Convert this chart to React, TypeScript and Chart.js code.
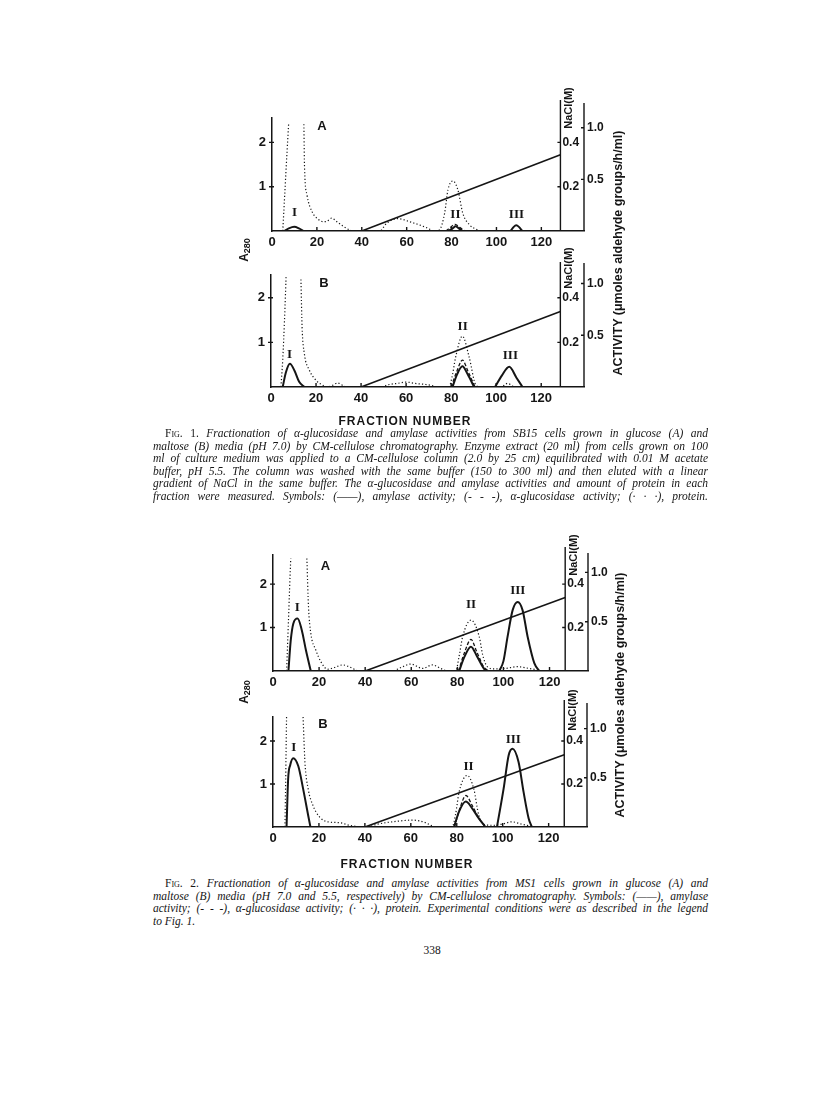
import React, { useEffect, useLayoutEffect, useRef } from "react";
import { Chart, registerables } from "chart.js";

Chart.register(...registerables);

type Pt = [number, number | null];
type Lbl = [string, number, number];

// ---------- axis ticks ----------
const fractionTicks = [0, 20, 40, 60, 80, 100, 120];
const a280Ticks = [1, 2];
const naclTicks = [0.2, 0.4];
const activityTicks = [0.5, 1.0];

// ---------- Fig. 1A (SB15, glucose) ----------
const f1aProtein: Pt[] = [
  [4.8, 0], [5.9, 1.04], [6.7, 1.79], [7.4, 2.41], [10.8, null], [14.2, 2.41], [14.5, 1.42],
  [15.6, 0.81], [17.8, 0.44], [20, 0.29], [23, 0.21], [24.5, 0.22], [26.5, 0.29], [28.9, 0.21],
  [31.9, 0.1], [34.8, 0.02], [37, 0], [48, 0], [51, 0.17], [56, 0.28], [61.3, 0.21], [68.7, 0.08],
  [72.4, 0], [74.5, 0.02], [76.9, 0.4], [78.4, 0.93], [80.6, 1.13], [82.8, 0.93], [85, 0.4],
  [88, 0.14], [91, 0.04], [93, 0],
];
const f1aAmylase: Pt[] = [
  [5.5, 0], [7.5, 0.025], [9.9, 0.04], [12, 0.025], [14, 0], [46, null],
  [78.5, 0], [80.5, 0.025], [81.8, 0.045], [83.2, 0.025], [85, 0], [95, null],
  [106.3, 0], [107.7, 0.04], [108.8, 0.055], [110, 0.04], [111.5, 0],
];
const f1aGlucosidase: Pt[] = [[77.5, 0], [79.5, 0.035], [81.6, 0.065], [83.6, 0.035], [86, 0]];
const f1aNaCl: Pt[] = [[40, 0], [128.5, 0.344]];
const f1aLabels: Lbl[] = [["A", 22.3, 2.35], ["I", 10, 0.41], ["II", 81.7, 0.36], ["III", 108.9, 0.38]];

// ---------- Fig. 1B (SB15, maltose) ----------
const f1bProtein: Pt[] = [
  [4.4, 0], [5.2, 0.6], [6, 1.5], [6.7, 2.47], [10, null], [13.3, 2.41], [13.8, 1.35], [14.8, 0.75],
  [17, 0.38], [20, 0.15], [23, 0.04], [25, 0], [27, 0.03], [29.6, 0.09], [32, 0.03], [34, 0],
  [49, 0], [52, 0.05], [56, 0.08], [60, 0.11], [64, 0.08], [68, 0.06], [71, 0.04], [74, 0],
  [79, 0], [80.5, 0.25], [82, 0.67], [85, 1.14], [88, 0.67], [91, 0.04], [93, 0],
  [102, 0], [105, 0.08], [108, 0],
];
const f1bAmylase: Pt[] = [
  [5.2, 0], [6.6, 0.14], [8.4, 0.224], [10.4, 0.16], [12.5, 0.05], [14.8, 0], [47, null],
  [80.6, 0], [82.6, 0.12], [85, 0.2], [87.4, 0.12], [90.2, 0], [95, null],
  [99.5, 0], [102.5, 0.11], [105.8, 0.195], [109, 0.09], [111.7, 0],
];
const f1bGlucosidase: Pt[] = [[80, 0], [82.5, 0.15], [85, 0.26], [87.5, 0.15], [90.6, 0]];
const f1bNaCl: Pt[] = [[40, 0], [128.5, 0.338]];
const f1bLabels: Lbl[] = [["B", 23.5, 2.32], ["I", 8.2, 0.73], ["II", 85.1, 1.35], ["III", 106.3, 0.71]];

// ---------- Fig. 2A (MS1, glucose) ----------
const f2aProtein: Pt[] = [
  [5.9, 0], [6.6, 1.0], [7.2, 1.9], [7.7, 2.59], [11, null], [14.7, 2.59], [15.4, 1.48], [16.4, 0.87],
  [18.6, 0.48], [20.8, 0.21], [23.7, 0.04], [26.6, 0.08], [30.2, 0.14], [33.8, 0.08], [36, 0.02],
  [38.2, 0], [51.8, 0], [55.5, 0.08], [59.8, 0.16], [64.9, 0.06], [69.2, 0.14], [72, 0.08],
  [74.3, 0.02], [76, 0], [79.3, 0], [80.8, 0.35], [82.3, 0.79], [85.9, 1.17], [89.5, 0.79],
  [91, 0.37], [93, 0.1], [96, 0.05], [101, 0.06], [106, 0.1], [111, 0.06], [114, 0.03], [116, 0],
];
const f2aAmylase: Pt[] = [
  [6.7, 0], [7.7, 0.31], [8.8, 0.48], [10.7, 0.533], [12.5, 0.414], [14.3, 0.21], [16.4, 0], [48, null],
  [80.8, 0], [83, 0.14], [85.9, 0.247], [88.5, 0.15], [91.7, 0.02], [93, 0], [95, null],
  [98.2, 0], [100, 0.1], [101.8, 0.348], [104, 0.617], [106.2, 0.7], [108.3, 0.617], [110.5, 0.348],
  [113.4, 0.08], [115.6, 0],
];
const f2aGlucosidase: Pt[] = [[80.5, 0], [83, 0.18], [85.9, 0.32], [88.5, 0.19], [91.5, 0.04], [94, 0]];
const f2aNaCl: Pt[] = [[40, 0], [126.8, 0.338]];
const f2aLabels: Lbl[] = [["A", 22.8, 2.4], ["I", 10.5, 1.46], ["II", 85.9, 1.53], ["III", 106.2, 1.84]];

// ---------- Fig. 2B (MS1, maltose) ----------
const f2bProtein: Pt[] = [
  [5.2, 0], [5.5, 1.0], [5.7, 1.8], [5.9, 2.56], [9.5, null], [13.1, 2.56], [13.9, 1.51], [15.3, 0.89],
  [17.4, 0.5], [20.3, 0.23], [23.9, 0.12], [29, 0.1], [33.3, 0.04], [39, 0], [41, 0], [44.9, 0.06],
  [53.5, 0.13], [60.7, 0.16], [66.5, 0.1], [69.4, 0.02], [71, 0], [78, 0], [79.5, 0.3], [81, 0.81],
  [84.5, 1.2], [87.4, 0.89], [89.6, 0.27], [92.5, 0.05], [96, 0.04], [100, 0.07], [104, 0.12],
  [108, 0.07], [112, 0.02], [114, 0],
];
const f2bAmylase: Pt[] = [
  [5.9, 0], [6.6, 0.49], [7.5, 0.63], [8.8, 0.7], [11, 0.62], [13.1, 0.39], [15.3, 0.12], [16.3, 0], [47, null],
  [78.8, 0], [81, 0.157], [83.9, 0.258], [86.7, 0.19], [89.6, 0.087], [92.5, 0], [95, null],
  [97.5, 0], [100.4, 0.39], [102.6, 0.73], [104.3, 0.795], [106.9, 0.66], [109.1, 0.354], [111.3, 0.087], [112.7, 0],
];
const f2bGlucosidase: Pt[] = [[79, 0], [81.5, 0.2], [84, 0.32], [86.7, 0.22], [89.6, 0.09], [92.5, 0]];
const f2bNaCl: Pt[] = [[40, 0], [126.8, 0.336]];
const f2bLabels: Lbl[] = [["B", 21.7, 2.39], ["I", 9, 1.84], ["II", 85.1, 1.4], ["III", 104.6, 2.03]];

// ---------- caption text ----------
const fig1Lines = [
  "Fractionation of α-glucosidase and amylase activities from SB15 cells grown in glucose (A) and",
  "maltose (B) media (pH 7.0) by CM-cellulose chromatography. Enzyme extract (20 ml) from cells grown on 100",
  "ml of culture medium was applied to a CM-cellulose column (2.0 by 25 cm) equilibrated with 0.01 M acetate",
  "buffer, pH 5.5. The column was washed with the same buffer (150 to 300 ml) and then eluted with a linear",
  "gradient of NaCl in the same buffer. The α-glucosidase and amylase activities and amount of protein in each",
  "fraction were measured. Symbols: (——), amylase activity; (- - -), α-glucosidase activity; (· · ·), protein.",
];
const fig2Lines = [
  "Fractionation of α-glucosidase and amylase activities from MS1 cells grown in glucose (A) and",
  "maltose (B) media (pH 7.0 and 5.5, respectively) by CM-cellulose chromatography. Symbols: (——), amylase",
  "activity; (- - -), α-glucosidase activity; (· · ·), protein. Experimental conditions were as described in the legend",
  "to Fig. 1.",
];

// ---------- styling / layout ----------
const INK = "#151515";
const SANS = "'Liberation Sans', Arial, sans-serif";
const SERIF = "'Liberation Serif', 'Times New Roman', serif";
const ML = 70, MR = 50, MT = 40, MB = 30;

interface Panel {
  plot: { left: number; right: number; top: number; bottom: number };
  xMax: number; naclAxisAt: number; yMax: number; actMax: number;
  naclTop: number; actTop: number; naclLabelDy: number;
  protein: Pt[]; amylase: Pt[]; glucosidase: Pt[]; nacl: Pt[]; labels: Lbl[];
}

const panels: Panel[] = [
  { plot: { left: 272, right: 583.5, top: 118, bottom: 231 }, xMax: 139, naclAxisAt: 128.5, yMax: 2.55, actMax: 1.094,
    naclTop: 18, actTop: 15, naclLabelDy: -10, protein: f1aProtein, amylase: f1aAmylase, glucosidase: f1aGlucosidase, nacl: f1aNaCl, labels: f1aLabels },
  { plot: { left: 271, right: 584, top: 275, bottom: 386.7 }, xMax: 139, naclAxisAt: 128.5, yMax: 2.51, actMax: 1.082,
    naclTop: 13, actTop: 12, naclLabelDy: -7, protein: f1bProtein, amylase: f1bAmylase, glucosidase: f1bGlucosidase, nacl: f1bNaCl, labels: f1bLabels },
  { plot: { left: 272.5, right: 587, top: 555, bottom: 671 }, xMax: 136.7, naclAxisAt: 126.8, yMax: 2.67, actMax: 1.176,
    naclTop: 8, actTop: 2, naclLabelDy: 0, protein: f2aProtein, amylase: f2aAmylase, glucosidase: f2aGlucosidase, nacl: f2aNaCl, labels: f2aLabels },
  { plot: { left: 273, right: 587, top: 716.7, bottom: 826.7 }, xMax: 136.7, naclAxisAt: 126.8, yMax: 2.56, actMax: 1.118,
    naclTop: 17, actTop: 14, naclLabelDy: -7, protein: f2bProtein, amylase: f2bAmylase, glucosidase: f2bGlucosidase, nacl: f2bNaCl, labels: f2bLabels },
];

function PanelChart({ p }: { p: Panel }) {
  const ref = useRef<HTMLCanvasElement>(null);
  const cl = p.plot.left - ML, ct = p.plot.top - MT;
  const cw = Math.round(p.plot.right + MR - cl), ch = Math.round(p.plot.bottom + MB - ct);

  useEffect(() => {
    if (!ref.current) return;
    const toXY = (a: Pt[]) => a.map(([x, y]) => ({ x, y }));
    const tickFont = (size: number) => ({ family: SANS, size, weight: "bold" as const });
    const decor = {
      id: "decor",
      afterDraw(chart: any) {
        const { ctx, chartArea: ca, scales } = chart;
        const xs = scales.x, ys = scales.y, yn = scales.yNaCl, ya = scales.yAct;
        ctx.save();
        ctx.strokeStyle = INK;
        ctx.fillStyle = INK;
        ctx.lineWidth = 1.4;
        ctx.beginPath();
        for (const t of fractionTicks) {
          if (t === 0) continue;
          const x = xs.getPixelForValue(t);
          ctx.moveTo(x, ca.bottom);
          ctx.lineTo(x, ca.bottom - 4);
        }
        for (const t of a280Ticks) {
          const y = ys.getPixelForValue(t);
          ctx.moveTo(ca.left - 3, y);
          ctx.lineTo(ca.left + 2, y);
        }
        const nx = xs.getPixelForValue(p.naclAxisAt);
        ctx.moveTo(nx, ca.bottom);
        ctx.lineTo(nx, ca.top - p.naclTop);
        for (const t of naclTicks) {
          const y = yn.getPixelForValue(t);
          ctx.moveTo(nx - 3, y);
          ctx.lineTo(nx, y);
        }
        const ax = ca.right;
        ctx.moveTo(ax, ca.bottom);
        ctx.lineTo(ax, ca.top - p.actTop);
        for (const t of activityTicks) {
          const y = ya.getPixelForValue(t);
          ctx.moveTo(ax - 3, y);
          ctx.lineTo(ax, y);
        }
        ctx.stroke();

        ctx.font = `bold 12px ${SANS}`;
        ctx.textAlign = "left";
        ctx.textBaseline = "middle";
        for (const t of naclTicks) ctx.fillText(t.toFixed(1), nx + 2, yn.getPixelForValue(t));

        ctx.save();
        ctx.translate(nx + 9, ca.top + p.naclLabelDy);
        ctx.rotate(-Math.PI / 2);
        ctx.font = `bold 11px ${SANS}`;
        ctx.textAlign = "center";
        ctx.fillText("NaCl(M)", 0, 0);
        ctx.restore();

        ctx.textAlign = "center";
        for (const [s, x, y] of p.labels) {
          ctx.font = s === "A" || s === "B" ? `bold 13px ${SANS}` : `bold 13px ${SERIF}`;
          ctx.fillText(s, xs.getPixelForValue(x), ys.getPixelForValue(y));
        }
        ctx.restore();
      },
    };

    const chart = new Chart(ref.current, {
      type: "line",
      data: {
        datasets: [
          { data: toXY(p.nacl), yAxisID: "yNaCl", borderColor: INK, borderWidth: 1.6, pointRadius: 0, tension: 0 },
          { data: toXY(p.protein), yAxisID: "y", borderColor: INK, borderWidth: 1.2, borderDash: [1.2, 2.2], pointRadius: 0, cubicInterpolationMode: "monotone" },
          { data: toXY(p.glucosidase), yAxisID: "yAct", borderColor: INK, borderWidth: 1.3, borderDash: [3.5, 2], pointRadius: 0, cubicInterpolationMode: "monotone" },
          { data: toXY(p.amylase), yAxisID: "yAct", borderColor: INK, borderWidth: 2, pointRadius: 0, cubicInterpolationMode: "monotone" },
        ],
      } as any,
      options: {
        animation: false,
        responsive: false,
        maintainAspectRatio: false,
        devicePixelRatio: 1,
        events: [],
        layout: { padding: { top: MT, left: 0, right: 0, bottom: 0 } },
        plugins: { legend: { display: false }, tooltip: { enabled: false } },
        scales: {
          x: {
            type: "linear", min: 0, max: p.xMax,
            grid: { display: false, drawTicks: false },
            border: { display: true, color: INK, width: 1.5 },
            ticks: { color: INK, font: tickFont(13), padding: 4, autoSkip: false, maxRotation: 0 },
            afterBuildTicks: (s: any) => { s.ticks = fractionTicks.map((v) => ({ value: v })); },
            afterFit: (s: any) => { s.height = MB; },
          },
          y: {
            position: "left", min: 0, max: p.yMax,
            grid: { display: false, drawTicks: false },
            border: { display: true, color: INK, width: 1.5 },
            ticks: { color: INK, font: tickFont(13), padding: 6 },
            afterBuildTicks: (s: any) => { s.ticks = a280Ticks.map((v) => ({ value: v })); },
            afterFit: (s: any) => { s.width = ML; },
          },
          yAct: {
            position: "right", min: 0, max: p.actMax,
            grid: { display: false, drawTicks: false },
            border: { display: false },
            ticks: { color: INK, font: tickFont(12), padding: 3, callback: (v: any) => Number(v).toFixed(1) },
            afterBuildTicks: (s: any) => { s.ticks = activityTicks.map((v) => ({ value: v })); },
            afterFit: (s: any) => { s.width = MR; },
          },
          yNaCl: { display: false, position: "right", min: 0, max: p.yMax / 5 },
        },
      } as any,
      plugins: [decor],
    });
    return () => chart.destroy();
  }, [p]);

  return (
    <canvas
      ref={ref}
      width={cw}
      height={ch}
      style={{ position: "absolute", left: cl, top: ct, width: cw, height: ch }}
    />
  );
}

function JustLine({ children, width, indent = 0, justify = true, top, left }: any) {
  const ref = useRef<HTMLSpanElement>(null);
  useLayoutEffect(() => {
    const el = ref.current;
    if (!el) return;
    el.style.wordSpacing = "0px";
    el.style.transform = "none";
    const w = el.getBoundingClientRect().width;
    const avail = width - indent;
    if (w > avail) {
      el.style.transform = `scaleX(${avail / w})`;
    } else if (justify) {
      const spaces = ((el.textContent || "").match(/ /g) || []).length;
      if (spaces) el.style.wordSpacing = `${(avail - w) / spaces}px`;
    }
  }, [width, indent, justify]);
  return (
    <div style={{ position: "absolute", left: left + indent, top, whiteSpace: "nowrap" }}>
      <span ref={ref} style={{ display: "inline-block", transformOrigin: "left center" }}>{children}</span>
    </div>
  );
}

function Caption({ figNo, lines, top, last }: { figNo: string; lines: string[]; top: number; last: boolean }) {
  const left = 153, width = 555, lh = 12.55;
  return (
    <div style={{ fontFamily: SERIF, fontStyle: "italic", fontSize: 11.5, color: INK, lineHeight: "12px" }}>
      {lines.map((ln, i) => (
        <JustLine key={i} left={left} top={top + i * lh} width={width} indent={i === 0 ? 12 : 0}
          justify={!(last && i === lines.length - 1)}>
          {i === 0 ? (
            <>
              <span style={{ fontStyle: "normal", fontVariant: "small-caps" }}>{`Fig. ${figNo}. `}</span>
              {ln}
            </>
          ) : ln}
        </JustLine>
      ))}
    </div>
  );
}

const Rot = ({ x, y, children, size = 12 }: any) => (
  <div style={{
    position: "absolute", left: x, top: y, transform: "translate(-50%, -50%) rotate(-90deg)",
    whiteSpace: "nowrap", fontFamily: SANS, fontWeight: "bold", fontSize: size, color: INK,
  }}>{children}</div>
);

const Center = ({ x, y, children, style }: any) => (
  <div style={{ position: "absolute", left: x, top: y, transform: "translate(-50%, -50%)", whiteSpace: "nowrap", color: INK, ...style }}>
    {children}
  </div>
);

export default function App() {
  return (
    <div style={{ position: "absolute", left: 0, top: 0, width: 816, height: 1100, background: "#fff", overflow: "hidden" }}>
      {panels.map((p, i) => <PanelChart key={i} p={p} />)}

      <Rot x={244} y={250}>A<sub style={{ fontSize: 9, verticalAlign: "-2px" }}>280</sub></Rot>
      <Rot x={244} y={692}>A<sub style={{ fontSize: 9, verticalAlign: "-2px" }}>280</sub></Rot>
      <Rot x={618} y={253} size={12.5}>ACTIVITY (μmoles aldehyde groups/h/ml)</Rot>
      <Rot x={620} y={695} size={12.5}>ACTIVITY (μmoles aldehyde groups/h/ml)</Rot>

      <Center x={405} y={421} style={{ fontFamily: SANS, fontWeight: "bold", fontSize: 12, letterSpacing: 1 }}>FRACTION NUMBER</Center>
      <Center x={407} y={864} style={{ fontFamily: SANS, fontWeight: "bold", fontSize: 12, letterSpacing: 1 }}>FRACTION NUMBER</Center>

      <Caption figNo="1" lines={fig1Lines} top={427} last={false} />
      <Caption figNo="2" lines={fig2Lines} top={877} last={true} />

      <Center x={432} y={950} style={{ fontFamily: SERIF, fontSize: 11.5 }}>338</Center>
    </div>
  );
}
